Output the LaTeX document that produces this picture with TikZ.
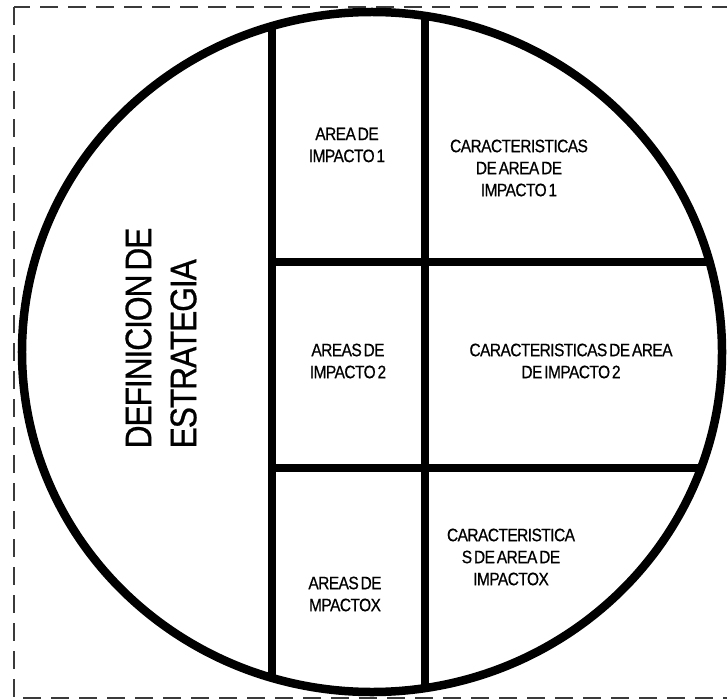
\documentclass[tikz,border=0pt]{standalone}
\usepackage{fontspec}
\newfontfamily\diagfont[FakeStretch=0.86,LetterSpace=-3,WordSpace=0.5,FakeBold=0.6]{Liberation Sans}
\usepackage{tikz}
\usetikzlibrary{positioning, calc}
\usepackage{xcolor}
\definecolor{frame}{HTML}{3A3A3A}

\begin{document}
\begin{tikzpicture}[
    x=1bp, y=-1bp,
    rim/.style={draw, line width=8.5bp},
    divider/.style={draw, line width=8bp},
    cell/.style={align=center, inner sep=0, font=\diagfont\fontsize{18bp}{22bp}\selectfont},
    title/.style={align=left, inner sep=0, rotate=90, font=\diagfont\fontsize{37bp}{45bp}\selectfont}
]
\useasboundingbox (0,0) rectangle (727,700);
\draw[frame, line width=2.2bp, dash pattern=on 18bp off 10bp] (14,7) rectangle (745,698);

\coordinate (mid) at (372,352);
\begin{scope}
\clip (mid) ellipse [x radius=350bp, y radius=340bp];
\draw[divider] (272,0) -- (272,700);
\draw[divider] (425,0) -- (425,700);
\draw[divider] (272,262) -- (740,262);
\draw[divider] (272,468) -- (740,468);
\end{scope}
\draw[rim] (mid) ellipse [x radius=350bp, y radius=340bp];

\node[title] (def) at (161,338) {DEFINICION DE\\ESTRATEGIA};

\node[cell] (a1) at (347,145) {AREA DE\\IMPACTO 1};
\node[cell] (c1) at (519,168) {CARACTERISTICAS\\DE AREA DE\\IMPACTO 1};
\node[cell] (a2) at (348,361) {AREAS DE\\IMPACTO 2};
\node[cell] (c2) at (571,361) {CARACTERISTICAS DE AREA\\DE IMPACTO 2};
\node[cell] (a3) at (345,594) {AREAS DE\\MPACTOX};
\node[cell] (c3) at (511,557) {CARACTERISTICA\\S DE AREA DE\\IMPACTOX};
\end{tikzpicture}
\end{document}
